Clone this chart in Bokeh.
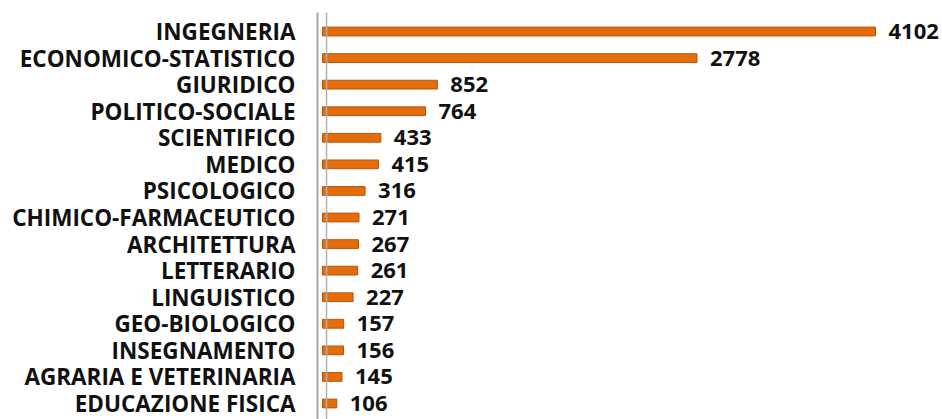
from bokeh.plotting import figure
from bokeh.models import Range1d, FixedTicker, Span, ColumnDataSource
from bokeh.core.properties import value
from bokeh.embed import file_html
from bokeh.resources import INLINE

categories = ["INGEGNERIA", "ECONOMICO-STATISTICO", "GIURIDICO", "POLITICO-SOCIALE",
              "SCIENTIFICO", "MEDICO", "PSICOLOGICO", "CHIMICO-FARMACEUTICO",
              "ARCHITETTURA", "LETTERARIO", "LINGUISTICO", "GEO-BIOLOGICO",
              "INSEGNAMENTO", "AGRARIA E VETERINARIA", "EDUCAZIONE FISICA"]
counts = [4102, 2778, 852, 764, 433, 415, 316, 271, 267, 261, 227, 157, 156, 145, 106]

idx = list(range(len(categories)))
src = ColumnDataSource(dict(y=idx, v=counts, lab=[str(c) for c in counts]))

FONT = "Open Sans"

p = figure(width=942, height=419, output_backend="svg", toolbar_location=None,
           x_range=Range1d(-37, 4599), y_range=Range1d(14.602, -0.715),
           min_border_left=317, min_border_right=0, min_border_top=12, min_border_bottom=0,
           background_fill_color="white", border_fill_color="white")
p.outline_line_color = None
p.xgrid.visible = False
p.ygrid.visible = False
p.xaxis.visible = False

ya = p.yaxis[0]
ya.ticker = FixedTicker(ticks=idx)
ya.major_label_overrides = {i: c for i, c in zip(idx, categories)}
ya.major_tick_line_color = None
ya.minor_tick_line_color = None
ya.major_tick_out = 0
ya.major_label_standoff = 22
ya.major_label_text_font = FONT
ya.major_label_text_font_style = "bold"
ya.major_label_text_font_size = "22.5px"
ya.major_label_text_color = "#111111"
ya.axis_line_color = "#A6A6A6"
ya.axis_line_width = 2

p.add_layout(Span(location=30, dimension="height", line_color="#B0B0B0", line_width=1.5))

p.hbar(y="y", left=0, right="v", height=0.33, source=src,
       fill_color="#E46C0A", line_color="#B65608", line_width=1)

p.text(x="v", y="y", text="lab", source=src, x_offset=13, y_offset=0,
       text_baseline="middle", text_align="left",
       text_font=value(FONT), text_font_style="bold", text_font_size="22px",
       text_color="#111111")

open("out.html", "w").write(file_html(p, INLINE))
